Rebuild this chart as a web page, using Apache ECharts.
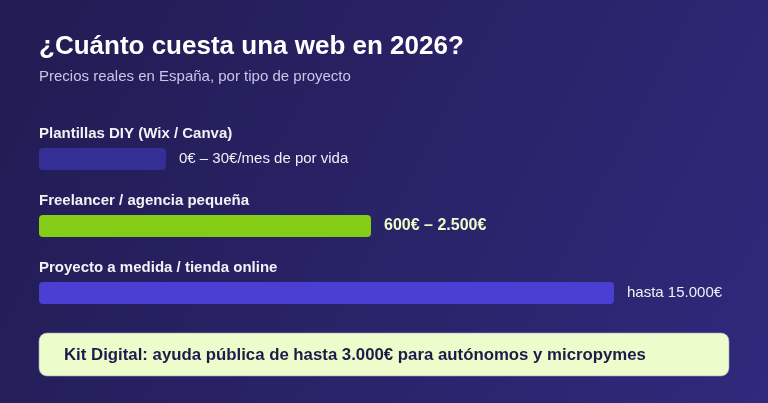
<!DOCTYPE html>
<html><head><meta charset="utf-8">
<script src="https://cdn.jsdelivr.net/npm/echarts@6/dist/echarts.min.js"></script>
<style>html,body{margin:0;padding:0;}#c{width:768px;height:403px;}</style>
</head><body><div id="c"></div>
<script>
const categories = ['Plantillas DIY (Wix / Canva)', 'Freelancer / agencia pequeña', 'Proyecto a medida / tienda online'];
const barValues = [127, 332, 575];
const priceLabels = ['0€ – 30€/mes de por vida', '600€ – 2.500€', 'hasta 15.000€'];
const barColors = ['#352f95', '#84cc16', '#4a3fd2'];

const chart = echarts.init(document.getElementById('c'));
const F = 'Liberation Sans, Arial, sans-serif';
chart.setOption({
  backgroundColor: {type:'linear',x:0,y:0,x2:1,y2:1,colorStops:[{offset:0,color:'#211c52'},{offset:1,color:'#30297c'}]},
  animation:false,
  graphic:[
    {type:'text', x:39, y:47, style:{text:'¿Cuánto cuesta una web en 2026?', fill:'#ffffff', font:'bold 26px '+F, textVerticalAlign:'middle'}},
    {type:'text', x:39, y:77, style:{text:'Precios reales en España, por tipo de proyecto', fill:'#c9c6e6', font:'15px '+F, textVerticalAlign:'middle'}},
    {type:'rect', shape:{x:39,y:333,width:690,height:43,r:8}, style:{fill:'#ecfccb', stroke:'#9aa3c8', lineWidth:0.6}},
    {type:'text', x:64, y:355, style:{text:'Kit Digital: ayuda pública de hasta 3.000€ para autónomos y micropymes', fill:'#1e1b4b', font:'bold 16.8px '+F, textVerticalAlign:'middle'}}
  ],
  grid:{left:39, width:690, top:125.5, height:201},
  xAxis:{type:'value', min:0, max:690, show:false},
  yAxis:{type:'category', data:categories, inverse:true, show:false},
  series:[
    {type:'bar', barWidth:22, data: barValues.map((v,i)=>({value:v, itemStyle:{color:barColors[i], borderRadius:4},
      label:{show:true, position:'right', distance:13, formatter:priceLabels[i],
        color: i===1?'#ecfccb':'#eef0f6', fontWeight: i===1?'bold':'normal', fontSize: i===1?16:15, fontFamily:F}})),
      z:3},
    {type:'bar', barWidth:22, barGap:'-100%', data: barValues.map(v=>({value:v})), itemStyle:{color:'transparent'},
      label:{show:true, position:[0,-22], formatter:p=>p.name, color:'#f1f1f6', fontWeight:'bold', fontSize:15, fontFamily:F}, silent:true, z:2}
  ]
});
</script></body></html>
